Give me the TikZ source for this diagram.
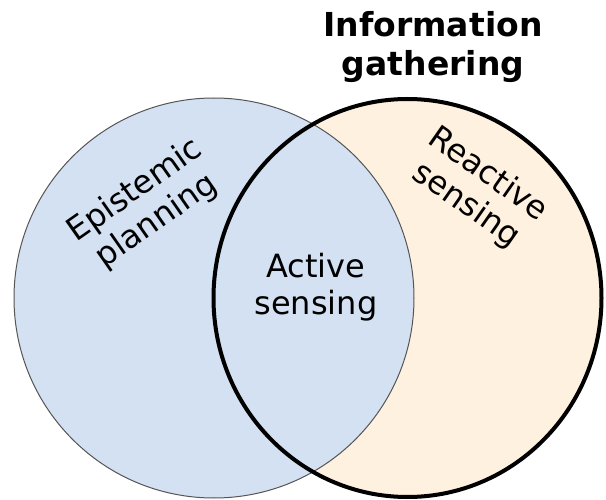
\documentclass[tikz,border=0pt]{standalone}
\usepackage{fontspec}
\setmainfont{DejaVu Sans}
\definecolor{leftfill}{HTML}{D4E1F2}
\definecolor{rightfill}{HTML}{FFF1E0}
\definecolor{leftline}{HTML}{555555}
\tikzset{
  lbl/.style={inner sep=0pt, align=center, font=\fontsize{32}{37.2}\selectfont},
  ttl/.style={inner sep=0pt, align=center, font=\fontsize{33}{38.4}\selectfont\bfseries},
}
\begin{document}
\begin{tikzpicture}[x=1pt,y=-1pt]
\useasboundingbox (0,0) rectangle (606,500);
% right set fill
\fill[rightfill] (407.5,298) ellipse [x radius=194, y radius=199];
% left set
\draw[fill=leftfill, draw=leftline, line width=1pt] (214,298) circle [radius=200];
% right set outline
\draw[black, line width=4pt] (407.5,298) ellipse [x radius=194, y radius=199];
% labels
\node[ttl] (title) at (433,47) {Information\\gathering};
\node[lbl] (active) at (316,287) {Active\\sensing};
\node[lbl, rotate=35] (epi) at (146,206) {Epistemic\\planning};
\node[lbl, rotate=-35] (react) at (477,190) {Reactive\\sensing};
\end{tikzpicture}
\end{document}
